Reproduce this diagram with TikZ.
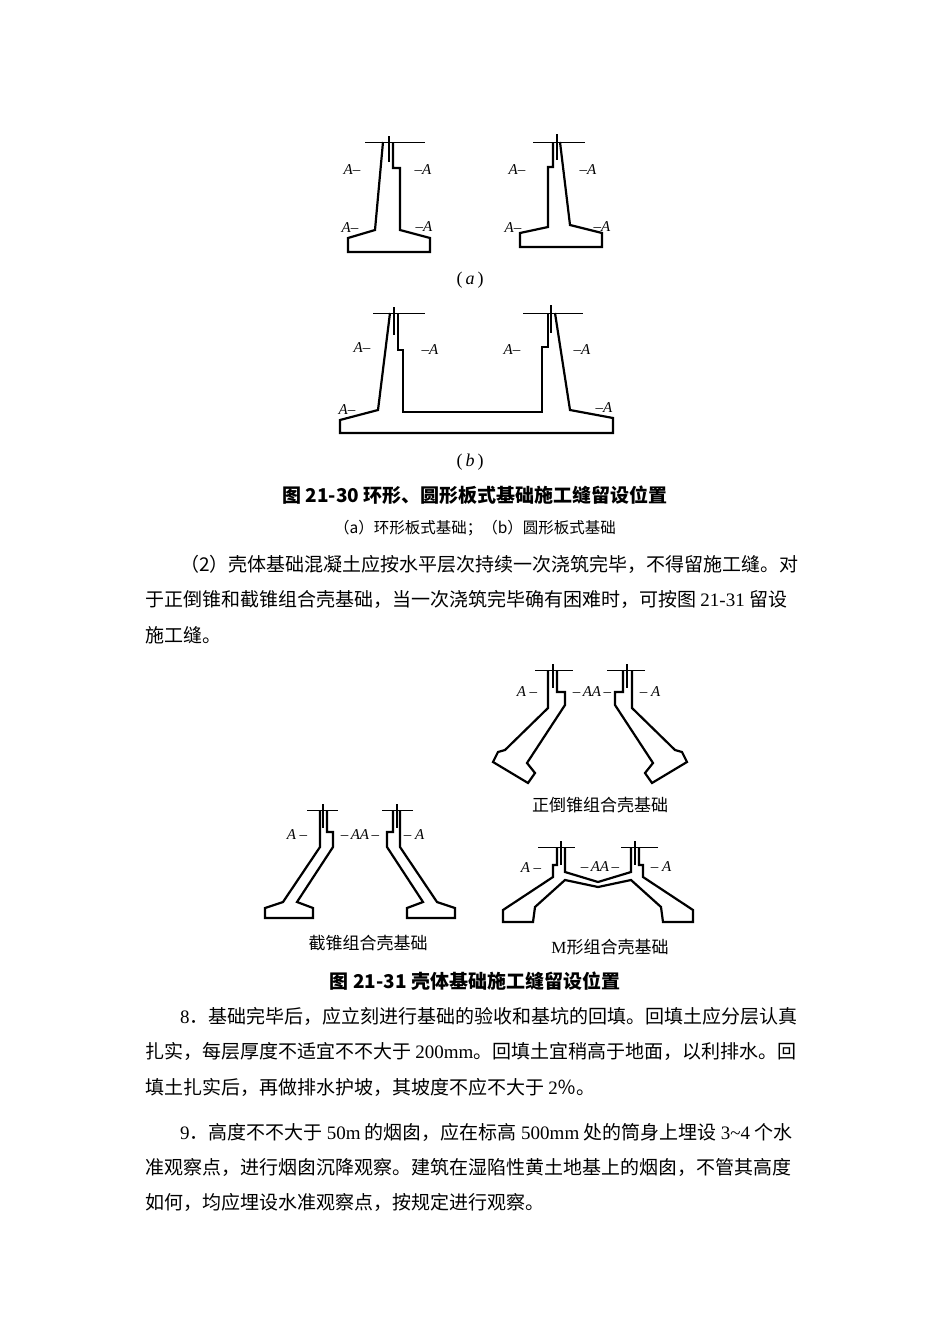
\documentclass[tikz,border=0pt]{standalone}
\usepackage{fontspec}
\setmainfont{Liberation Serif}
\newfontfamily\cjk{Noto Sans CJK SC}
\newfontfamily\lat{Liberation Serif}
\begin{document}
\begin{tikzpicture}[x=1pt,y=-1pt,
  wall/.style={line width=2.2pt,line join=miter},
  topl/.style={line width=1pt},
  lab/.style={font=\lat\fontsize{15}{15}\selectfont\itshape,inner sep=0pt},
  body/.style={anchor=base west,inner sep=0pt,font=\cjk\fontsize{19}{19}\selectfont},
  captxt/.style={inner sep=0pt,font=\cjk\fontsize{17}{17}\selectfont}]
\fill[white] (0,0) rectangle (950,1344);
\newcommand\lbl[3]{\node[lab] at (#1,#2) {#3};}
% ---- (a) left
\draw[topl] (365,142)--(425,142);
\draw[wall] (383,142)--(375,230)--(348,238)--(348,252)--(430,252)--(430,238)--(400,230)--(400,168)--(393,168)--(393,142);
\draw[line width=1.2pt] (389,136)--(389,162);
\lbl{352}{170}{A–}\lbl{423}{170}{–A}\lbl{350}{228}{A–}\lbl{424}{227}{–A}
% ---- (a) right
\draw[topl] (533,142)--(585,142);
\draw[wall] (553,142)--(553,167)--(548,167)--(548,227)--(520,233)--(520,247)--(602,247)--(602,233)--(570,225)--(560,142);
\draw[line width=1.2pt] (557,134)--(557,160);
\lbl{517}{170}{A–}\lbl{588}{170}{–A}\lbl{513}{228}{A–}\lbl{602}{227}{–A}
\node[font=\lat\fontsize{18}{18}\selectfont] (ca) at (470,280) {(\,\textit{a}\,)};
% ---- (b)
\draw[topl] (373,313)--(425,313) (523,313)--(583,313);
\draw[wall] (390,313)--(378,410)--(340,420)--(340,433)--(613,433)--(613,418)--(570,410)--(555,313);
\draw[wall] (398,313)--(398,350)--(403,350)--(403,412)--(542,412)--(542,347)--(548,347)--(548,313);
\draw[line width=1.2pt] (394,307)--(394,335) (551,305)--(551,333);
\lbl{362}{348}{A–}\lbl{430}{350}{–A}\lbl{512}{350}{A–}\lbl{582}{350}{–A}\lbl{347}{410}{A–}\lbl{604}{408}{–A}
\node[font=\lat\fontsize{18}{18}\selectfont] (cb) at (470,462) {(\,\textit{b}\,)};
% ---- captions fig 21-30
\node[captxt,font=\cjk\bfseries\fontsize{19}{19}\selectfont] (c1) at (475,495) {图 21-30 环形、圆形板式基础施工缝留设位置};
\node[captxt,font=\cjk\fontsize{15.5}{15.5}\selectfont] (c2) at (475,528) {（a）环形板式基础；（b）圆形板式基础};
% ---- body text 1
\node[body] (t1) at (180,571) {（2）壳体基础混凝土应按水平层次持续一次浇筑完毕，不得留施工缝。对};
\node[body] (t2) at (145,606) {于正倒锥和截锥组合壳基础，当一次浇筑完毕确有困难时，可按图 {\lat 21-31} 留设};
\node[body] (t3) at (145,642) {施工缝。};
% ---- 正倒锥
\newcommand\zdz{\draw[topl] (535,670)--(573,670);
\draw[wall] (548,670)--(548,708)--(505,750)--(498,752)--(493,762)--(528,783)--(535,773)--(527,763)--(565,705)--(565,692)--(557,692)--(557,670);
\draw[line width=1.2pt] (553,664)--(553,688);}
\zdz
\begin{scope}[xshift=1180pt,xscale=-1]\zdz\end{scope}
\lbl{527}{692}{A –}\lbl{592}{692}{–\,AA\,–}\lbl{650}{692}{– A}
\node[captxt] (c3) at (600,805) {正倒锥组合壳基础};
% ---- 截锥
\newcommand\jz{\draw[topl] (307,810)--(338,810);
\draw[wall] (320,810)--(320,847)--(283,902)--(265,908)--(265,918)--(313,918)--(313,908)--(297,902)--(333,847)--(333,832)--(327,832)--(327,810);
\draw[line width=1.2pt] (323,804)--(323,828);}
\jz
\begin{scope}[xshift=720pt,xscale=-1]\jz\end{scope}
\lbl{297}{835}{A –}\lbl{360}{835}{–\,AA\,–}\lbl{414}{835}{– A}
\node[captxt] (c4) at (368,943) {截锥组合壳基础};
% ---- M形
\newcommand\mx{\draw[topl] (538,847)--(575,847);
\draw[wall] (557,847)--(557,865)--(553,865)--(553,877)--(503,910)--(503,922)--(533,922)--(535,907)--(565,880)--(598,887);
\draw[wall] (565,847)--(565,872)--(598,882);
\draw[line width=1.2pt] (561,841)--(561,865);}
\mx
\begin{scope}[xshift=1196pt,xscale=-1]\mx\end{scope}
\lbl{531}{868}{A –}\lbl{600}{867}{–\,AA\,–}\lbl{661}{867}{– A}
\node[captxt] (c5) at (610,947) {{\lat M}形组合壳基础};
\node[captxt,font=\cjk\bfseries\fontsize{19}{19}\selectfont] (c6) at (475,981) {图 21-31 壳体基础施工缝留设位置};
% ---- body text 2
\node[body] (t4) at (180,1023) {{\lat 8}．基础完毕后，应立刻进行基础的验收和基坑的回填。回填土应分层认真};
\node[body] (t5) at (145,1058) {扎实，每层厚度不适宜不不大于 {\lat 200mm}。回填土宜稍高于地面，以利排水。回};
\node[body] (t6) at (145,1094) {填土扎实后，再做排水护坡，其坡度不应不大于 {\lat 2}％。};
\node[body] (t7) at (180,1139) {{\lat 9}．高度不不大于 {\lat 50m} 的烟囱，应在标高 {\lat 500mm} 处的筒身上埋设 {\lat 3\char`\~4} 个水};
\node[body] (t8) at (145,1174) {准观察点，进行烟囱沉降观察。建筑在湿陷性黄土地基上的烟囱，不管其高度};
\node[body] (t9) at (145,1209) {如何，均应埋设水准观察点，按规定进行观察。};
\useasboundingbox (0,0) rectangle (950,1344);
\end{tikzpicture}
\end{document}
